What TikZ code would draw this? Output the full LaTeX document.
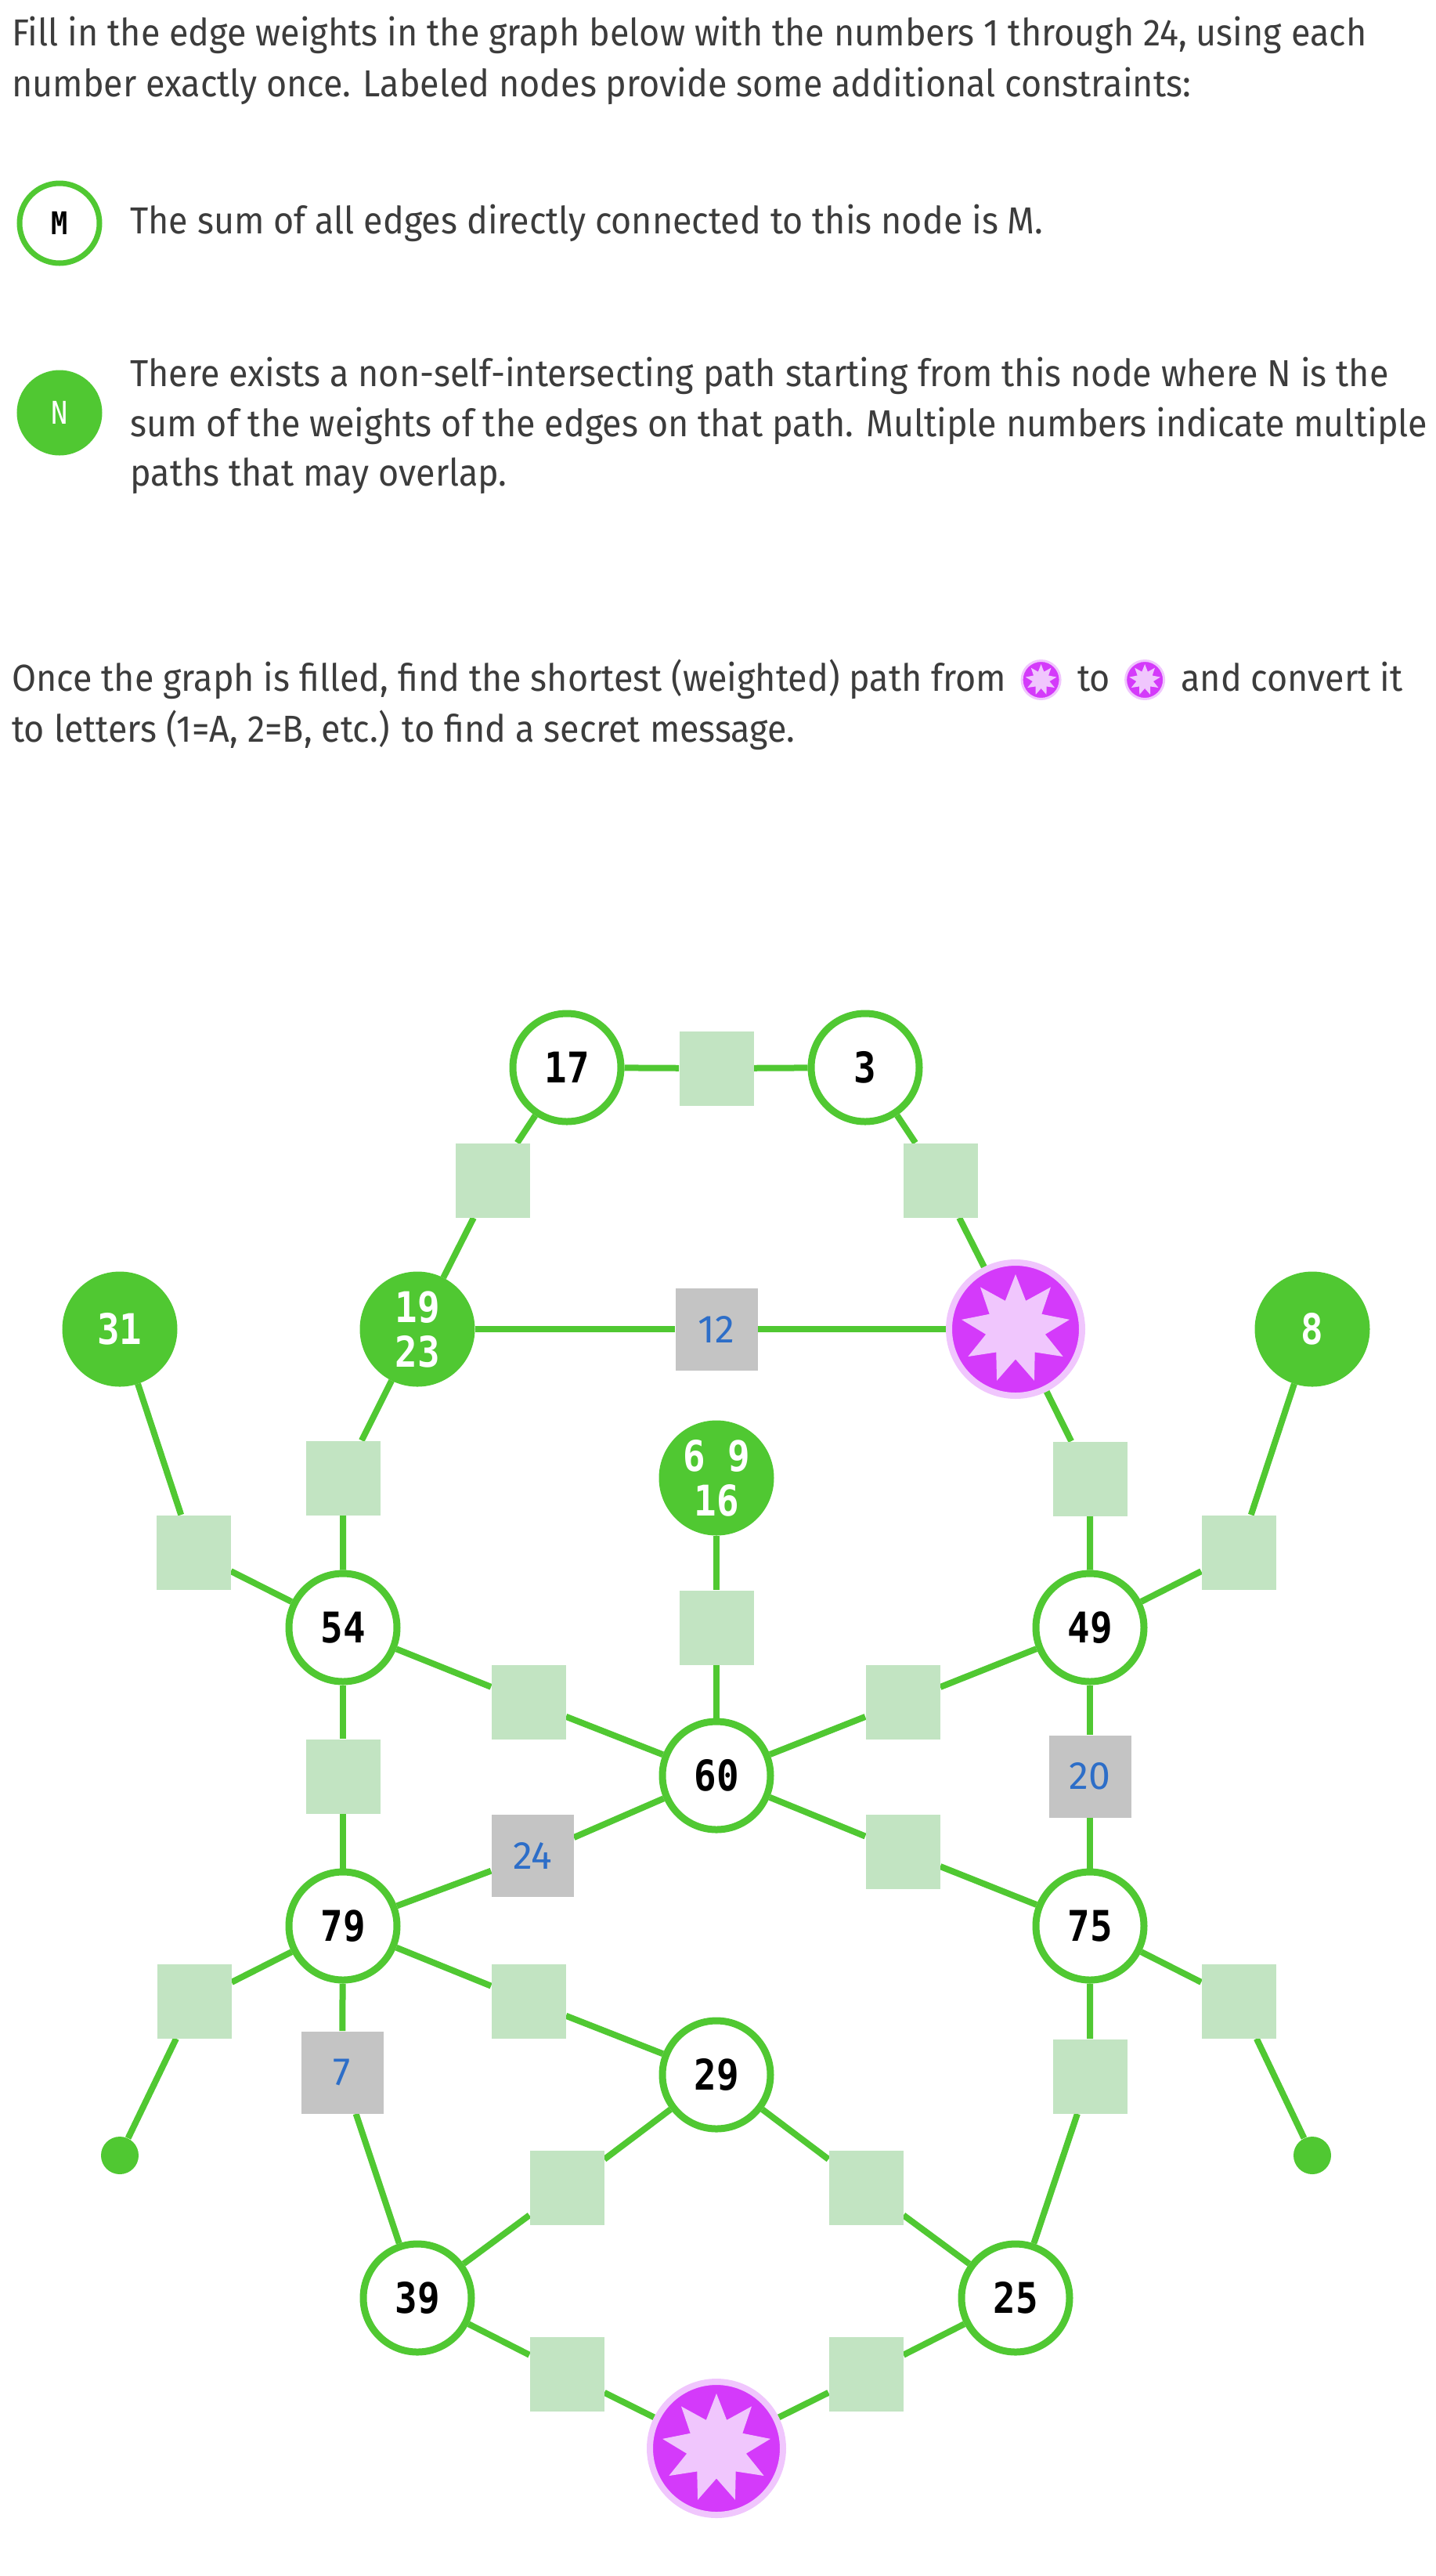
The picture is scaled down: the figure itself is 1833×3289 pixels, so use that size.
\documentclass[tikz,border=0pt]{standalone}
\usepackage{fontspec}
\usetikzlibrary{shapes.geometric,backgrounds,calc}
\setmainfont{Fira Sans}
\newfontfamily\bodyfont{Fira Sans}[FakeStretch=0.935]
\newfontfamily\numfont{DejaVu Sans Mono}[FakeStretch=0.88]
\definecolor{gline}{RGB}{80,200,50}
\definecolor{gsq}{RGB}{194,228,194}
\definecolor{gbox}{RGB}{196,196,196}
\definecolor{bnum}{RGB}{45,110,200}
\definecolor{purp}{RGB}{212,58,250}
\definecolor{pinkl}{RGB}{240,198,253}
\definecolor{txtc}{RGB}{60,60,60}
\begin{document}
\begin{tikzpicture}[x=0.5pt,y=-0.5pt,
  conn/.style={gline, line width=4pt},
  onode/.style={circle, draw=gline, line width=4.5pt, fill=white, minimum size=69pt, inner sep=0pt,
    font=\numfont\bfseries\fontsize{27}{28.5}\selectfont, align=center},
  fnode/.style={circle, draw=gline, fill=gline, line width=4.5pt, minimum size=69pt, inner sep=0pt,
    text=white, font=\numfont\bfseries\fontsize{27}{28.5}\selectfont, align=center},
  wsq/.style={rectangle, fill=gsq, minimum size=47.5pt, inner sep=0pt},
  wbox/.style={rectangle, fill=gbox, minimum size=52.5pt, inner sep=0pt, text=bnum,
    font=\fontsize{25}{28}\selectfont},
  dotn/.style={circle, fill=gline, minimum size=24pt, inner sep=0pt},
  badge/.style={circle, fill=purp, draw=pinkl, inner sep=0pt},
  starin/.style={star, star points=9, star point ratio=1.82, fill=pinkl, inner sep=0pt},
  txtline/.style={anchor=base west, inner sep=0pt, text=txtc, font=\bodyfont\fontsize{24}{30}\selectfont}
]
\useasboundingbox (0,0) rectangle (1833,3289);

% ---- text ----
\node[txtline] (t1) at (15,58) {Fill in the edge weights in the graph below with the numbers 1 through 24, using each};
\node[txtline] (t2) at (15,123) {number exactly once. Labeled nodes provide some additional constraints:};
\node[circle, draw=gline, line width=3.5pt, fill=white, minimum size=51pt, inner sep=0pt,
  font=\numfont\bfseries\fontsize{20}{22}\selectfont] (lm) at (76,285) {M};
\node[txtline] (t3) at (166,298) {The sum of all edges directly connected to this node is M.};
\node[circle, draw=gline, fill=gline, line width=3.5pt, minimum size=51pt, inner sep=0pt, text=white,
  font=\numfont\fontsize{20}{22}\selectfont] (ln) at (76,527) {N};
\node[txtline] (t4) at (166,493) {There exists a non-self-intersecting path starting from this node where N is the};
\node[txtline] (t5) at (166,557) {sum of the weights of the edges on that path. Multiple numbers indicate multiple};
\node[txtline] (t6) at (166,620) {paths that may overlap.};
\node[txtline] (t7) at (15,882) {Once the graph is filled, find the shortest (weighted) path from};
\node[badge, minimum size=24.5pt, line width=1.5pt] (ic1) at ($(t7.base east)+(44,-14)$) {};
\node[starin, minimum size=20pt] (ic1s) at (ic1) {};
\node[txtline] (t8) at ($(ic1.center)+(46,14)$) {to};
\node[badge, minimum size=24.5pt, line width=1.5pt] (ic2) at ($(t8.base east)+(44,-14)$) {};
\node[starin, minimum size=20pt] (ic2s) at (ic2) {};
\node[txtline] (t9) at ($(ic2.center)+(46,14)$) {and convert it};
\node[txtline] (t10) at (15,947) {to letters (1=A, 2=B, etc.) to find a secret message.};

% ---- main nodes ----
\node[onode] (n17) at (724,1363) {17};
\node[onode] (n3) at (1105,1363) {3};
\node[fnode] (n31) at (153,1697) {31};
\node[fnode] (n1923) at (533,1697) {19\\23};
\node[badge, minimum size=85pt, line width=4pt] (sT) at (1297,1697) {};
\node[starin, minimum size=70pt] (sTs) at (sT) {};
\node[fnode] (n8) at (1676,1697) {8};
\node[fnode] (n6916) at (915,1887) {6 9\\16};
\node[onode] (n54) at (438,2078) {54};
\node[onode] (n49) at (1392,2078) {49};
\node[onode] (n60) at (915,2267) {60};
\node[onode] (n79) at (438,2459) {79};
\node[onode] (n75) at (1392,2459) {75};
\node[onode] (n29) at (915,2649) {29};
\node[onode] (n39) at (533,2934) {39};
\node[onode] (n25) at (1297,2934) {25};
\node[badge, minimum size=85pt, line width=4pt] (sB) at (915,3126) {};
\node[starin, minimum size=70pt] (sBs) at (sB) {};
\node[dotn] (dL) at (153,2752) {};
\node[dotn] (dR) at (1676,2752) {};

% ---- weight boxes ----
\node[wsq] (s1) at (915,1364) {};
\node[wsq] (s2) at (629,1507) {};
\node[wsq] (s3) at (1201,1507) {};
\node[wbox] (g12) at (915,1697) {12};
\node[wsq] (s4) at (247,1982) {};
\node[wsq] (s5) at (438,1887) {};
\node[wsq] (s6) at (1392,1888) {};
\node[wsq] (s7) at (1582,1982) {};
\node[wsq] (s8) at (915,2078) {};
\node[wsq] (s9) at (675,2173) {};
\node[wsq] (s10) at (1153,2173) {};
\node[wsq] (s11) at (438,2268) {};
\node[wbox] (g20) at (1392,2268) {20};
\node[wbox] (g24) at (680,2369) {24};
\node[wsq] (s12) at (1153,2364) {};
\node[wsq] (s13) at (248,2555) {};
\node[wsq] (s14) at (675,2555) {};
\node[wsq] (s15) at (1582,2555) {};
\node[wbox] (g7) at (437,2646) {7};
\node[wsq] (s16) at (1392,2651) {};
\node[wsq] (s17) at (724,2793) {};
\node[wsq] (s18) at (1106,2793) {};
\node[wsq] (s19) at (724,3031) {};
\node[wsq] (s20) at (1106,3031) {};

% ---- connectors ----
\begin{pgfonlayer}{background}
\draw[conn] (n17) -- (s1) -- (n3);
\draw[conn] (n1923) -- (s2) -- (n17);
\draw[conn] (n3) -- (s3) -- (sT);
\draw[conn] (n1923) -- (g12) -- (sT);
\draw[conn] (n31) -- (s4) -- (n54);
\draw[conn] (n1923) -- (s5) -- (n54);
\draw[conn] (sT) -- (s6) -- (n49);
\draw[conn] (n8) -- (s7) -- (n49);
\draw[conn] (n6916) -- (s8) -- (n60);
\draw[conn] (n54) -- (s9) -- (n60);
\draw[conn] (n60) -- (s10) -- (n49);
\draw[conn] (n54) -- (s11) -- (n79);
\draw[conn] (n49) -- (g20) -- (n75);
\draw[conn] (n79) -- (g24) -- (n60);
\draw[conn] (n60) -- (s12) -- (n75);
\draw[conn] (n79) -- (s13) -- (dL);
\draw[conn] (n79) -- (s14) -- (n29);
\draw[conn] (n75) -- (s15) -- (dR);
\draw[conn] (n79) -- (g7) -- (n39);
\draw[conn] (n75) -- (s16) -- (n25);
\draw[conn] (n29) -- (s17) -- (n39);
\draw[conn] (n29) -- (s18) -- (n25);
\draw[conn] (n39) -- (s19) -- (sB);
\draw[conn] (sB) -- (s20) -- (n25);
\end{pgfonlayer}
\end{tikzpicture}
\end{document}
